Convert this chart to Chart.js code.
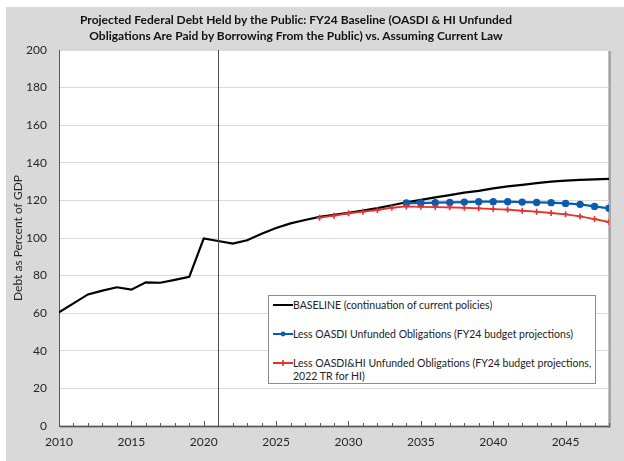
<!DOCTYPE html>
<html>
<head>
<meta charset="utf-8">
<script src="https://cdn.jsdelivr.net/npm/chart.js@4.4.1/dist/chart.umd.min.js"></script>
<style>
  body { margin: 0; background: #fff; }
  #wrap { position: relative; width: 624px; height: 461px; overflow: hidden; }
  #panel { position: absolute; left: 6px; top: 7px; right: 0; bottom: 0; background: #d9d9d9; }
  canvas { position: absolute; left: 0; top: 0; }
  #title { position: absolute; left: 0; width: 592px; top: 12px; text-align: center;
           font: bold 12px Lato, sans-serif; line-height: 16px; color: #111; }
  #legend { position: absolute; left: 268px; top: 295px; width: 326px; height: 87px;
            background: #fff; border: 1px solid #8c8c8c; font: 10.5px Lato, sans-serif; color: #222; }
  .item { position: absolute; left: 4px; display: flex; align-items: flex-start; line-height: 13px; white-space: nowrap; }
  .item svg { flex: none; margin-top: 1px; }
</style>
</head>
<body>
<div id="wrap">
  <div id="panel"></div>
  <canvas id="myChart" width="624" height="461"></canvas>
  <div id="title">Projected Federal Debt Held by the Public: FY24 Baseline (OASDI &amp; HI Unfunded<br>Obligations Are Paid by Borrowing From the Public) vs. Assuming Current Law</div>
  <div id="legend"></div>
</div>
<script>
// data
let Baseline_Years = [2010, 2011, 2012, 2013, 2014, 2015, 2016, 2017, 2018, 2019,
    2020, 2021, 2022, 2023, 2024, 2025, 2026, 2027, 2028, 2029,
    2030, 2031, 2032, 2033, 2034, 2035, 2036, 2037, 2038, 2039,
    2040, 2041, 2042, 2043, 2044, 2045, 2046, 2047, 2048];
let Baseline = [60.5, 65.2, 70.0, 72.0, 73.8, 72.5, 76.4, 76.2, 77.7, 79.3,
    99.8, 98.4, 97.0, 98.8, 102.3, 105.3, 107.8, 109.6, 111.2, 112.3,
    113.4, 114.6, 115.9, 117.4, 119.0, 120.3, 121.6, 122.8, 124.1, 125.1,
    126.4, 127.5, 128.3, 129.2, 130.0, 130.5, 130.9, 131.2, 131.4];

let OASDI_Years = [2034, 2035, 2036, 2037, 2038, 2039, 2040, 2041, 2042, 2043,
    2044, 2045, 2046, 2047, 2048];
let Less_OASDI = [118.6, 118.6, 118.8, 118.9, 119.1, 119.3, 119.3, 119.3, 119.1, 118.9,
    118.8, 118.4, 117.9, 116.8, 115.8];

let OASDI_HI_Years = [2028, 2029, 2030, 2031, 2032, 2033, 2034, 2035, 2036, 2037,
    2038, 2039, 2040, 2041, 2042, 2043, 2044, 2045, 2046, 2047, 2048];
let Less_OASDI_HI = [110.8, 111.9, 113.1, 114.0, 114.9, 116.1, 116.8, 116.6, 116.4, 116.3,
    116.1, 115.8, 115.4, 115.1, 114.5, 114.0, 113.3, 112.6, 111.5, 110.1, 108.5];

let Series_Labels = [
    "BASELINE (continuation of current policies)",
    "Less OASDI Unfunded Obligations (FY24 budget projections)",
    "Less OASDI&HI Unfunded Obligations (FY24 budget projections, 2022 TR for HI)"
];
let Y_Ticks = [0, 20, 40, 60, 80, 100, 120, 140, 160, 180, 200];
const Divider_Year = 2021;

const FONT = "Lato, sans-serif";

function toPoints(xs, ys) {
    return xs.map((x, i) => ({ x: x, y: ys[i] }));
}

// white plot area with a light frame
const plotBackground = {
    id: "plotBackground",
    beforeDraw(chart) {
        const { ctx, chartArea: a } = chart;
        ctx.save();
        ctx.fillStyle = "#a6a6a6";
        ctx.fillRect(a.left + 1, a.top + 1, a.right - a.left + 1, a.bottom - a.top + 1);
        ctx.fillStyle = "#ffffff";
        ctx.fillRect(a.left, a.top, a.right - a.left, a.bottom - a.top);
        ctx.strokeStyle = "#bfbfbf";
        ctx.lineWidth = 1;
        ctx.strokeRect(a.left + 0.5, a.top + 0.5, a.right - a.left - 1, a.bottom - a.top - 1);
        ctx.restore();
    },
    afterDatasetsDraw(chart) {
        // inward year ticks and the 2021 divider
        const { ctx, chartArea: a, scales } = chart;
        const x = scales.x;
        ctx.save();
        ctx.strokeStyle = "#595959";
        ctx.lineWidth = 1;
        x.ticks.forEach(t => {
            const px = Math.round(x.getPixelForValue(t.value)) + 0.5;
            const len = t.value % 5 === 0 ? 5 : 3;
            ctx.beginPath();
            ctx.moveTo(px, a.bottom);
            ctx.lineTo(px, a.bottom - len);
            ctx.stroke();
        });
        const dx = Math.round(x.getPixelForValue(Divider_Year)) + 0.5;
        ctx.strokeStyle = "#4d4d4d";
        ctx.beginPath();
        ctx.moveTo(dx, a.top);
        ctx.lineTo(dx, a.bottom);
        ctx.stroke();
        ctx.restore();
    }
};

var ctx = document.getElementById("myChart");

var myChart = new Chart(ctx, {
    type: "line",
    data: {
        datasets: [{
            label: Series_Labels[0],
            data: toPoints(Baseline_Years, Baseline),
            borderColor: "#000000",
            borderWidth: 2.2,
            pointRadius: 0,
            order: 3
        }, {
            label: Series_Labels[1],
            data: toPoints(OASDI_Years, Less_OASDI),
            borderColor: "#0b5cad",
            backgroundColor: "#0b5cad",
            borderWidth: 2.2,
            pointRadius: 2.6,
            pointStyle: "circle",
            order: 2
        }, {
            label: Series_Labels[2],
            data: toPoints(OASDI_HI_Years, Less_OASDI_HI),
            borderColor: "#e8312d",
            backgroundColor: "#e8312d",
            borderWidth: 1.8,
            pointRadius: 3,
            pointStyle: "cross",
            pointBorderWidth: 1.6,
            order: 1
        }]
    },
    options: {
        responsive: false,
        animation: false,
        layout: { padding: { left: 0, right: 15, top: 50, bottom: 5 } },
        scales: {
            x: {
                type: "linear",
                min: 2010,
                max: 2048,
                border: { color: "#595959", width: 1 },
                grid: { display: false, drawTicks: false },
                ticks: {
                    stepSize: 1,
                    autoSkip: false,
                    maxRotation: 0,
                    padding: 9,
                    color: "#262626",
                    font: { family: FONT, size: 12 },
                    callback: v => (v % 5 === 0 ? String(v) : "")
                },
                afterFit: s => { s.height = 30; }
            },
            y: {
                min: 0,
                max: 200,
                afterBuildTicks: s => { s.ticks = Y_Ticks.map(v => ({ value: v })); },
                border: { color: "#595959", width: 1 },
                grid: { color: "#d9d9d9", drawTicks: false },
                ticks: {
                    padding: 12,
                    color: "#262626",
                    font: { family: FONT, size: 12 }
                },
                title: {
                    display: true,
                    text: "Debt as Percent of GDP",
                    color: "#262626",
                    font: { family: FONT, size: 12 },
                    padding: { top: 11, bottom: 0 }
                },
                afterFit: s => { s.width = 59; }
            }
        },
        plugins: {
            legend: { display: false },
            title: { display: false },
            tooltip: { enabled: false }
        }
    },
    plugins: [plotBackground]
});

// legend box inside the plot, built from the datasets
function swatch(ds) {
    let marker = "";
    if (ds.pointStyle === "circle") {
        marker = `<circle cx="10" cy="5" r="2.4" fill="${ds.borderColor}"/>`;
    } else if (ds.pointStyle === "cross") {
        marker = `<path d="M10 2 V8 M7 5 H13" stroke="${ds.borderColor}" stroke-width="1.6"/>`;
    }
    return `<svg width="20" height="10"><line x1="0" y1="5" x2="20" y2="5" stroke="${ds.borderColor}" stroke-width="2"/>${marker}</svg>`;
}

let legendTops = [3, 32, 61];
let legendHtml = "";
myChart.data.datasets.forEach((ds, i) => {
    let text = ds.label;
    if (i === 2) text = text.replace("projections, ", "projections,<br>");
    legendHtml += `<div class="item" style="top:${legendTops[i]}px">${swatch(ds)}<span>${text}</span></div>`;
});
document.getElementById("legend").innerHTML = legendHtml;
</script>
</body>
</html>
